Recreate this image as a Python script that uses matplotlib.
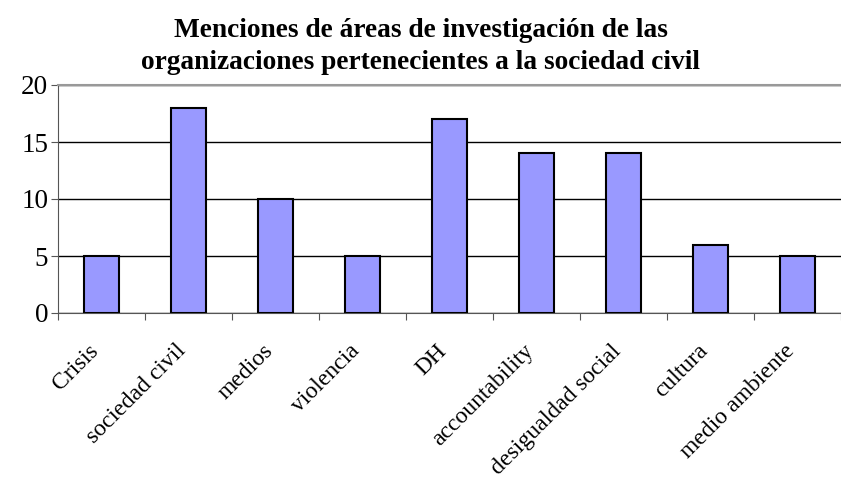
import matplotlib
matplotlib.use("Agg")
from matplotlib import pyplot as plt
from matplotlib import transforms

categorias = ["Crisis", "sociedad civil", "medios", "violencia", "DH",
              "accountability", "desigualdad social", "cultura", "medio ambiente"]
menciones = [5, 18, 10, 5, 17, 14, 14, 6, 5]
y_ticks = [0, 5, 10, 15, 20]

plt.rcParams['font.family'] = ['Liberation Serif', 'DejaVu Serif']

fig = plt.figure(figsize=(8.41, 4.84), dpi=100)
ax = fig.add_axes([58 / 841, (484 - 313) / 484, (841 - 58) / 841, (313 - 85) / 484])

x = list(range(len(categorias)))
ax.bar(x, menciones, width=0.41, color="#9999FF", edgecolor="black", linewidth=1.5, zorder=3)

ax.set_ylim(0, 20)
ax.set_xlim(-0.5, len(categorias) - 0.5)
ax.set_yticks(y_ticks)
ax.set_yticklabels([str(v) for v in y_ticks], fontsize=19.5)
ax.yaxis.grid(True, color="black", linewidth=1.0, zorder=0)

# ticks between categories, labels centered under bars
ax.set_xticks([i - 0.5 for i in range(len(categorias) + 1)], minor=False)
ax.set_xticklabels([])
ax.set_xticks(x, minor=True)
ax.set_xticklabels(categorias, minor=True, rotation=45, ha="right", va="center",
                   rotation_mode="anchor", fontsize=17)
ax.tick_params(axis="x", which="minor", length=0, pad=25)
ax.tick_params(axis="x", which="major", length=5, color="#555555", direction="out")
ax.tick_params(axis="y", length=5, color="#555555", direction="out", pad=2)

# nudge the rotated labels a bit to the left
shift = transforms.ScaledTranslation(-0.06, 0, fig.dpi_scale_trans)
for lbl in ax.xaxis.get_minorticklabels():
    lbl.set_transform(lbl.get_transform() + shift)

ax.spines["right"].set_visible(False)
ax.spines["top"].set_color("#999999")
ax.spines["top"].set_linewidth(1.5)
ax.spines["left"].set_color("#555555")
ax.spines["bottom"].set_color("#555555")

fig.text(0.5, 0.962, "Menciones de áreas de investigación de las\n"
         "organizaciones pertenecientes a la sociedad civil",
         ha="center", va="top", fontsize=19.7, fontweight="bold", linespacing=1.35)

fig.savefig("out.png", dpi=100)
